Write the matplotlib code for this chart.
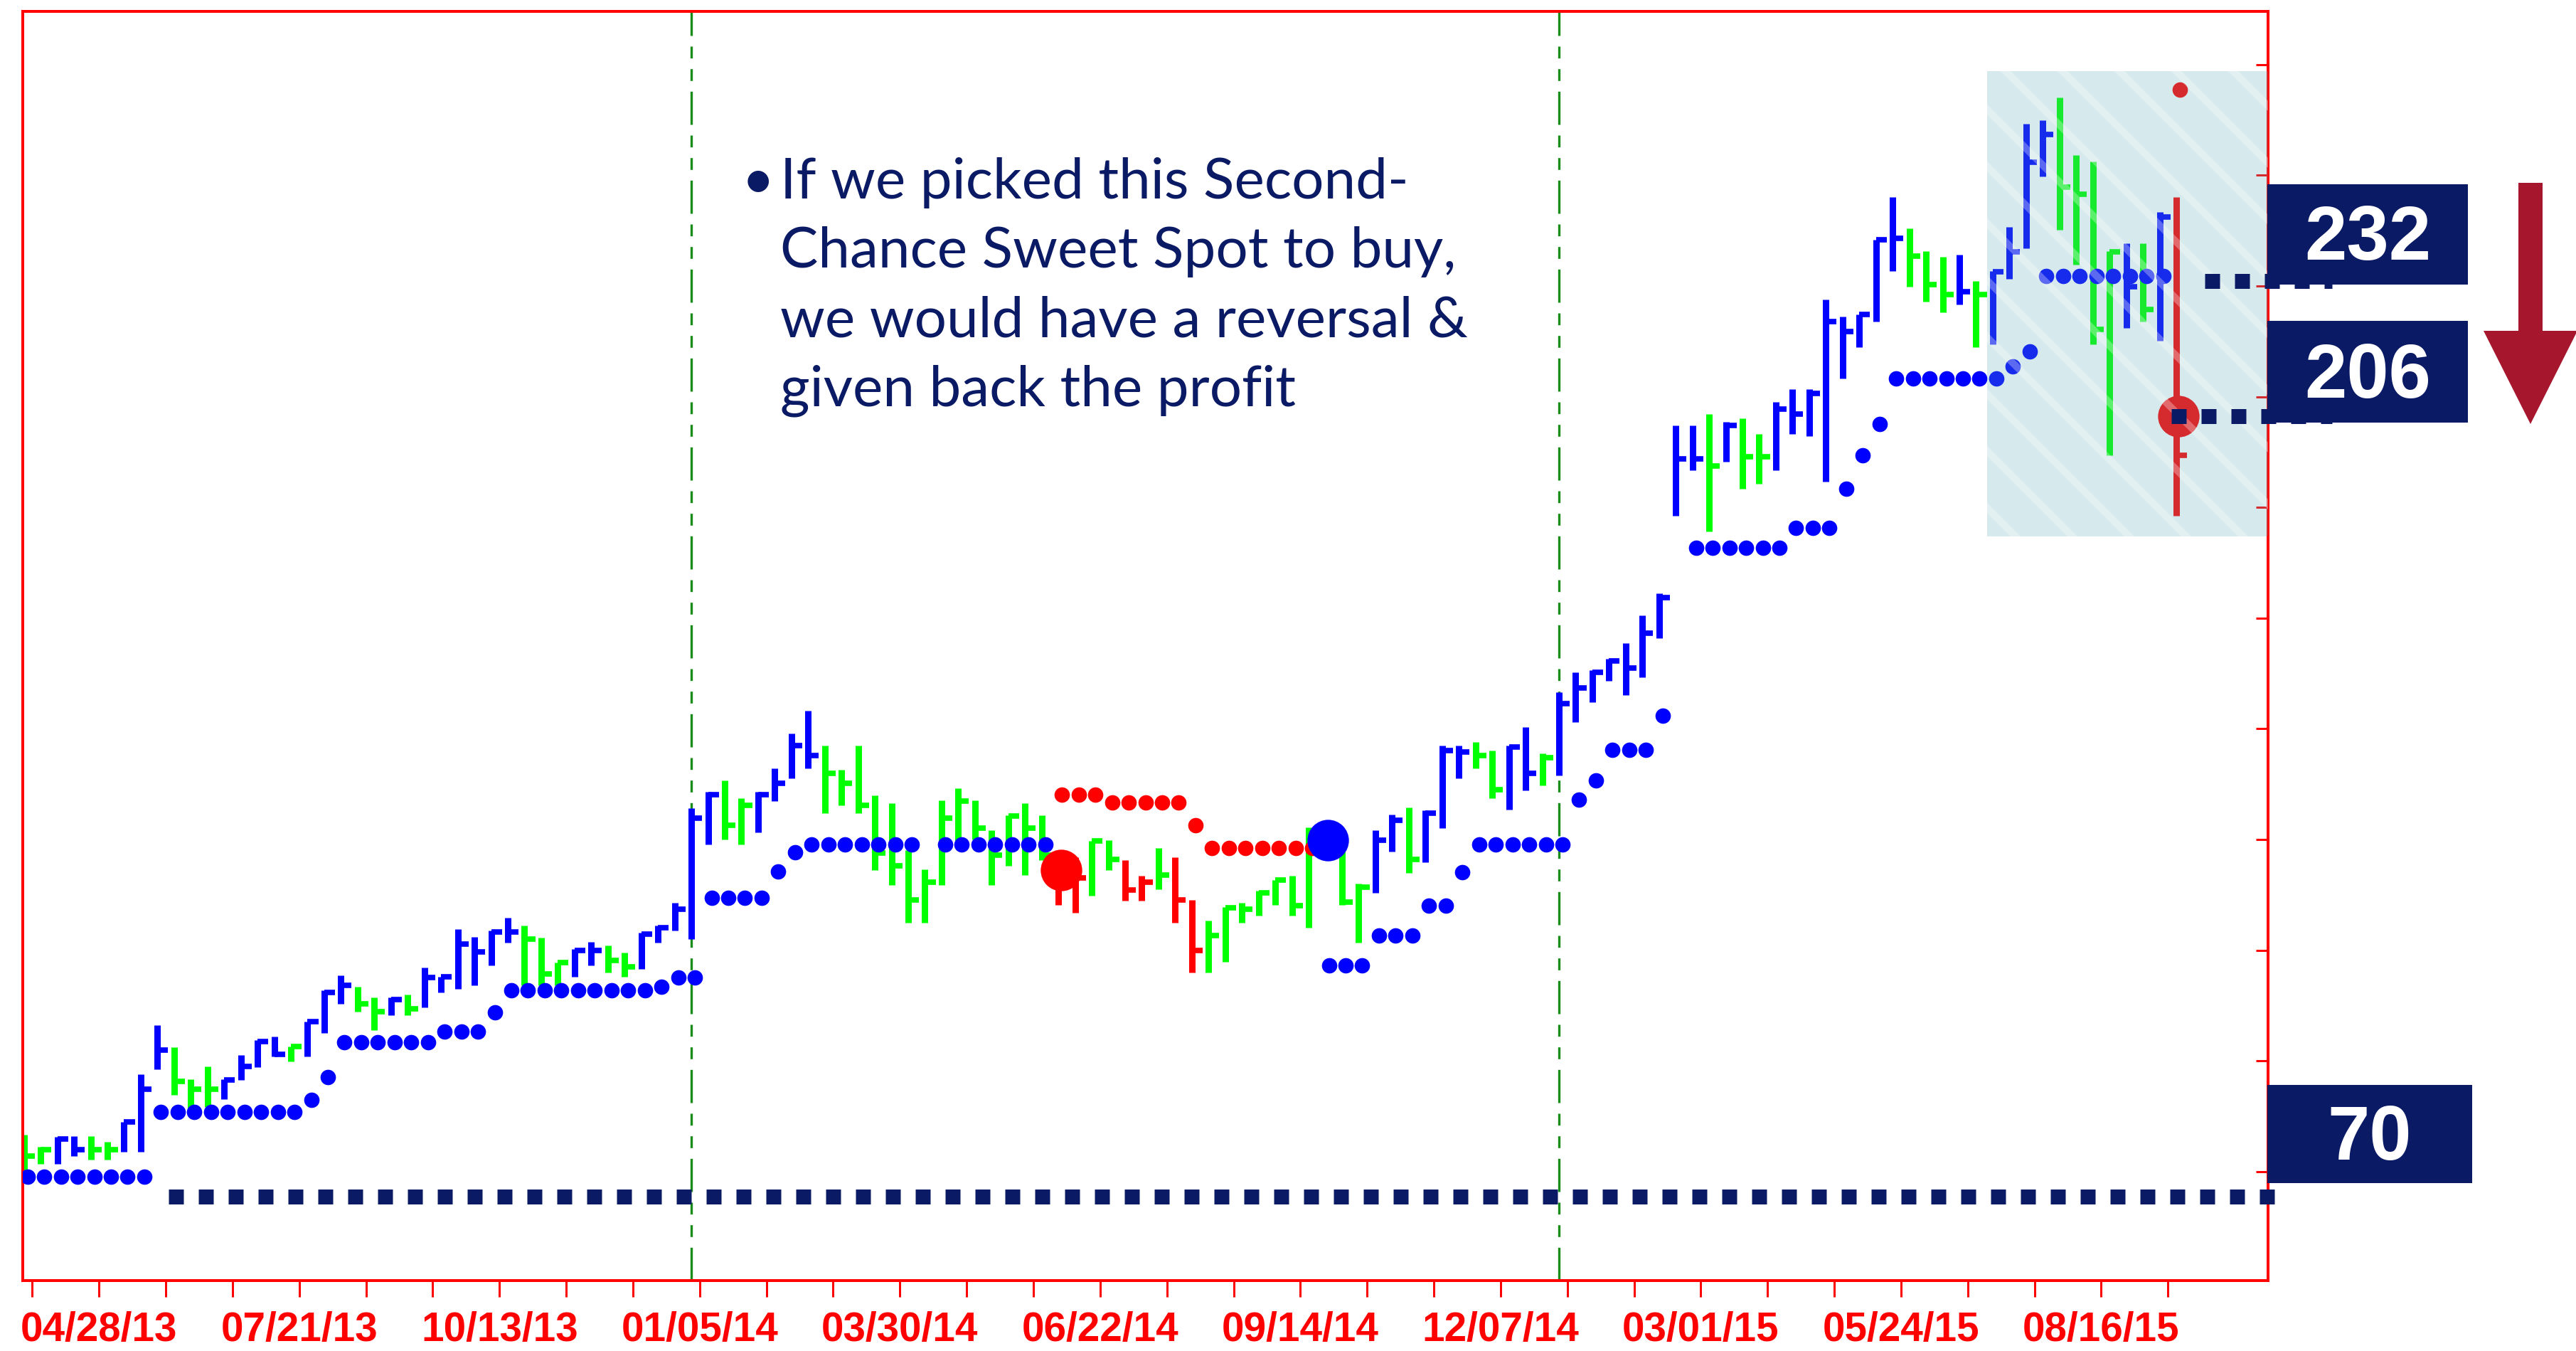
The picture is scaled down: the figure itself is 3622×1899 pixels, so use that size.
import numpy as np
import pandas as pd
import matplotlib
matplotlib.use("Agg")
import matplotlib.pyplot as plt
import matplotlib.dates as mdates
import matplotlib.transforms as mtransforms
from matplotlib.patches import Rectangle, Polygon

W, H, DPI = 3622, 1899, 240
plt.rcParams["hatch.linewidth"] = 3.0

# weekly bars: high / low / close
highs = [76.6, 74.4, 76.2, 76.4, 76.4, 75.3, 78.9, 87.6, 96.5, 92.4,
         86.7, 89.0, 86.7, 91.1, 93.8, 94.4, 92.6, 97.1, 102.8, 105.5,
         103.4, 101.4, 101.4, 102.0, 106.8, 105.2, 113.8, 112.4, 113.6, 115.9,
         114.5, 112.3, 107.7, 110.2, 111.5, 110.9, 109.5, 113.1, 114.5, 118.6,
         135.7, 138.6, 140.7, 137.4, 138.6, 142.9, 149.1, 153.2, 147.0, 142.6,
         147.0, 138.0, 136.5, 128.1, 124.6, 137.1, 139.3, 137.1, 131.6, 134.3,
         136.5, 134.3, 127.5, 126.8, 129.7, 129.8, 126.2, 123.4, 128.4, 126.8,
         119.1, 115.3, 117.8, 118.5, 120.7, 122.6, 123.4, 132.2, 132.6, 129.7,
         122.0, 131.7, 134.5, 135.8, 135.2, 147.0, 147.0, 147.6, 146.1, 147.0,
         150.3, 145.5, 156.6, 160.2, 160.6, 162.7, 165.5, 170.5, 174.5, 204.8,
         204.8, 206.9, 205.4, 206.1, 203.3, 209.0, 211.4, 211.3, 227.5, 224.5,
         224.8, 238.4, 246.1, 240.4, 236.3, 235.2, 235.7, 230.9, 232.7, 240.7,
         259.3, 259.9, 264.1, 253.7, 252.5, 236.3, 237.7, 237.7, 243.4, 246.1]
lows = [69.9, 71.4, 71.4, 72.8, 72.1, 72.1, 73.5, 73.5, 88.5, 83.8,
        81.3, 81.6, 83.1, 86.6, 88.8, 90.8, 89.9, 90.8, 95.0, 100.3,
        98.9, 95.6, 98.3, 98.3, 99.6, 102.3, 103.0, 103.7, 107.3, 111.3,
        103.7, 103.7, 103.7, 105.2, 107.3, 105.9, 105.2, 106.6, 111.3, 113.6,
        112.0, 129.1, 130.0, 129.1, 131.3, 136.9, 141.0, 142.9, 134.8, 136.2,
        134.8, 124.5, 121.7, 114.9, 114.9, 121.7, 129.7, 130.0, 121.7, 125.2,
        123.6, 126.2, 118.2, 116.8, 119.8, 124.5, 118.9, 118.9, 121.0, 114.9,
        105.9, 105.9, 107.9, 114.9, 116.2, 118.2, 116.2, 114.0, 126.8, 118.2,
        111.4, 120.4, 127.8, 123.9, 125.9, 132.0, 141.0, 142.9, 137.5, 135.4,
        138.8, 139.7, 141.6, 151.2, 154.8, 158.6, 156.1, 159.3, 166.4, 188.5,
        196.7, 185.7, 198.3, 193.4, 194.3, 196.7, 203.3, 202.9, 194.7, 213.3,
        218.9, 223.6, 232.7, 229.8, 227.2, 225.2, 226.6, 218.9, 219.5, 231.3,
        236.8, 249.8, 240.2, 233.9, 219.5, 199.4, 222.4, 223.6, 220.1, 188.5]
closes = [72.8, 73.9, 75.9, 73.9, 73.9, 73.9, 78.9, 84.9, 92.0, 86.3,
          84.9, 84.9, 86.6, 89.0, 93.5, 91.2, 92.6, 97.1, 102.3, 103.7,
          100.3, 98.9, 101.1, 99.4, 105.0, 105.2, 111.1, 109.7, 113.3, 113.3,
          112.0, 105.7, 107.7, 110.0, 110.0, 108.2, 107.0, 112.9, 114.1, 117.4,
          133.9, 138.1, 132.6, 136.2, 138.1, 140.1, 147.0, 145.1, 142.0, 140.1,
          136.2, 127.5, 125.2, 119.1, 122.3, 133.9, 136.9, 132.0, 127.1, 134.2,
          132.0, 127.1, 122.3, 123.0, 129.7, 126.4, 120.8, 122.3, 123.6, 119.1,
          109.9, 112.7, 117.6, 117.4, 120.4, 122.6, 118.1, 129.4, 129.4, 118.7,
          121.4, 129.8, 133.5, 126.4, 134.8, 146.1, 145.8, 145.1, 139.0, 146.7,
          141.9, 144.8, 154.5, 157.4, 160.2, 162.3, 161.0, 167.2, 173.7, 198.8,
          198.8, 197.5, 204.8, 199.2, 199.2, 207.8, 206.9, 210.6, 223.6, 221.8,
          224.8, 238.4, 238.6, 235.4, 230.2, 228.4, 228.9, 228.4, 232.5, 236.1,
          252.3, 257.3, 247.8, 246.6, 222.2, 236.1, 229.8, 225.7, 242.5, 199.4]
bar_colors = list("ggbbggbbbg" "ggbbbbgbbb" "ggbgbbbbbb" "gggbbggbbb" "bbggbbbbgg"
                  "gggggggggg" "ggrrggrrgr" "rggggggggg" "gbbgbbbggb" "bgbbbbbbbb"
                  "bgbggbbbbb" "bbbgggbgbb" "bbggggbgbr")

nan = np.nan
# trailing stop dots (blue below price, red above price)
blue_stop = [69.1, 69.1, 69.1, 69.1, 69.1, 69.1, 69.1, 69.1, 80.8, 80.8,
             80.8, 80.8, 80.8, 80.8, 80.8, 80.8, 80.8, 82.9, 87.0, 93.3,
             93.3, 93.3, 93.3, 93.3, 93.3, 95.3, 95.3, 95.3, 98.7, 102.8,
             102.8, 102.8, 102.8, 102.8, 102.8, 102.8, 102.8, 102.8, 103.4, 105.0,
             105.0, 119.5, 119.5, 119.5, 119.5, 124.2, 127.7, 129.1, 129.1, 129.1,
             129.1, 129.1, 129.1, 129.1, nan, 129.1, 129.1, 129.1, 129.1, 129.1,
             129.1, 129.1, nan, nan, nan, nan, nan, nan, nan, nan,
             nan, nan, nan, nan, nan, nan, nan, nan, 107.2, 107.2,
             107.2, 112.6, 112.6, 112.6, 118.1, 118.1, 124.1, 129.1, 129.1, 129.1,
             129.1, 129.1, 129.1, 137.2, 140.6, 146.2, 146.2, 146.2, 152.4, nan,
             182.7, 182.7, 182.7, 182.7, 182.7, 182.7, 186.3, 186.3, 186.3, 193.3,
             199.4, 205.1, 213.3, 213.3, 213.3, 213.3, 213.3, 213.3, 213.3, 215.4,
             218.1, 231.8, 231.8, 231.8, 231.8, 231.8, 231.8, 231.8, 231.8, nan]
red_stop = [nan] * 62 + [138.1, 138.1, 138.1, 136.7, 136.7, 136.7, 136.7, 136.7,
                         132.6, 128.4, 128.4, 128.4, 128.4, 128.4, 128.4, 128.4] \
           + [nan] * 51 + [265.5]

# signal dots: (bar number, price, colour)
signals = [(63, 124.4, "#ff0000"), (79, 129.8, "#0000ff"), (130, 206.5, "#ff0000")]

# annotation levels drawn as navy dotted lines
level_232, level_206, level_70 = 230.9, 206.5, 65.5

dates = pd.date_range("2013-03-27 12:00", periods=len(highs), freq="7D")
tick_dates = pd.date_range("2013-03-31", "2015-09-13", freq="28D")
cycle_bars = [41, 93]  # the two green dashed verticals

navy = "#0b1a64"
red_axis = "#ff0000"
cmap = {"b": "#0000ff", "g": "#00ff00", "r": "#ff0000"}


def fx(p):
    return p / W


def fy(p):
    return 1 - p / H


fig = plt.figure(figsize=(W / DPI, H / DPI), dpi=DPI, facecolor="white")
ax = fig.add_axes([fx(32), fy(1800), fx(3189 - 32), (1800 - 16) / H])

x = mdates.date2num(dates)
cols = [cmap[c] for c in bar_colors]
ax.vlines(x, lows, highs, colors=cols, lw=2.7, capstyle="butt", zorder=2)
ax.hlines(closes, x, x + 4.5, colors=cols, lw=2.3, capstyle="butt", zorder=2)

ax.plot(x + 1.5, blue_stop, "o", color="#0000ff", ms=6.5, mew=0, zorder=3)
ax.plot(x + 1.5, red_stop, "o", color="#ff0000", ms=6.5, mew=0, zorder=3)
for n, val, c in signals:
    ax.plot(x[n - 1] + 1.0, val, "o", color=c, ms=17.5, mew=0, zorder=4)

for n in cycle_bars:
    ax.axvline(x[n - 1], color="#1a8c1a", lw=1.0,
               ls=(0, (14, 4.5, 5, 4.5, 5, 4.5)), zorder=1)

ax.set_xlim(mdates.date2num(pd.Timestamp("2013-03-27")),
            mdates.date2num(pd.Timestamp("2015-10-25")))
ax.set_ylim(50.3, 279.6)

ticks = mdates.date2num(tick_dates)
ax.set_xticks(ticks)
ax.set_xticklabels([d.strftime("%m/%d/%y") if i % 3 == 1 else ""
                    for i, d in enumerate(tick_dates)])
for lab in ax.get_xticklabels():
    lab.set_fontfamily("Liberation Sans")
    lab.set_fontweight("bold")
ax.tick_params(axis="x", direction="out", length=6.9, width=0.9, color=red_axis,
               labelcolor=red_axis, labelsize=17, pad=6.0)

ax.yaxis.set_ticks_position("right")
ax.set_yticks(np.arange(70, 271, 20))
ax.tick_params(axis="y", direction="in", length=5.1, width=0.9, color=red_axis,
               labelright=False, labelleft=False)
for s in ax.spines.values():
    s.set_color(red_axis)
    s.set_linewidth(1.2)

# shaded region over the last weeks
shade = Rectangle((0.8749, 0.5863), 0.1251, 0.3666, transform=ax.transAxes,
                  facecolor="#5fafbb", alpha=0.25, edgecolor="none", zorder=5)
ax.add_patch(shade)
stripes = Rectangle((0.8749, 0.5863), 0.1251, 0.3666, transform=ax.transAxes,
                    facecolor="none", edgecolor=(1, 1, 1, 0.3), lw=0,
                    hatch="\\", zorder=5.1)
ax.add_patch(stripes)

# navy dotted level lines
trans = mtransforms.blended_transform_factory(ax.transAxes, ax.transData)
for (x0, x1, lvl) in [(0.06494, 1.00443, level_70),
                      (0.97181, 1.02851, level_232),
                      (0.95692, 1.02851, level_206)]:
    ax.plot([x0, x1], [lvl, lvl], transform=trans, clip_on=False, color=navy,
            lw=6.3, ls=(0, (1, 1)), dash_capstyle="butt", zorder=6)

# value boxes at the right
for txt, x0, y0, x1, y1 in [("232", 3188, 259, 3470, 400),
                            ("206", 3188, 451, 3470, 594),
                            ("70", 3188, 1525, 3476, 1663)]:
    fig.add_artist(Rectangle((fx(x0), fy(y1)), fx(x1 - x0), (y1 - y0) / H,
                             transform=fig.transFigure, facecolor=navy,
                             edgecolor="none", zorder=3))
    fig.text(fx((x0 + x1) / 2), fy((y0 + y1) / 2 + 8), txt, color="white",
             fontsize=32, fontweight="bold", family="Liberation Sans",
             ha="center", va="center", zorder=4)

# red down arrow
arrow_px = [(3541, 257), (3575, 257), (3575, 465), (3624, 465), (3558, 596),
            (3492, 465), (3541, 465)]
fig.add_artist(Polygon([(fx(a), fy(b)) for a, b in arrow_px], closed=True,
                       transform=fig.transFigure, facecolor="#a6172d",
                       edgecolor="none", zorder=3))

# comment text
note = ["If we picked this Second-", "Chance Sweet Spot to buy,",
        "we would have a reversal &", "given back the profit"]
for i, line in enumerate(note):
    fig.text(fx(1097), fy(279 + 97 * i), line, color=navy, fontsize=24,
             family="Lato", ha="left", va="baseline")
fig.text(fx(1043), fy(279), "\u2022", color=navy, fontsize=24, family="Lato",
         ha="left", va="baseline")

fig.savefig("out.png", dpi=DPI, facecolor="white")
